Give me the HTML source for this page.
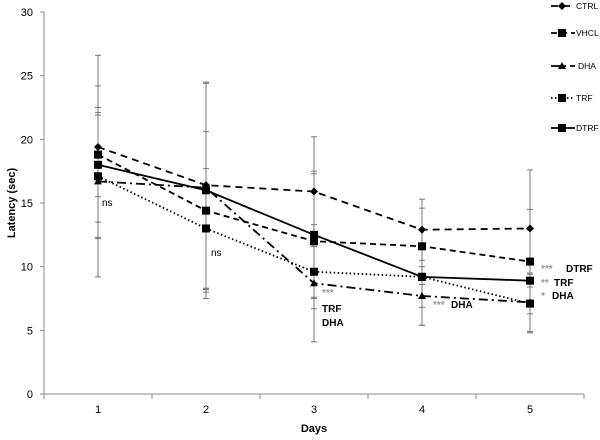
<!DOCTYPE html>
<html><head><meta charset="utf-8"><style>
body{margin:0;background:#fff;}
svg text{font-family:"Liberation Sans",sans-serif;}
</style></head><body>
<svg id="chart" width="600" height="435" viewBox="0 0 600 435" xmlns="http://www.w3.org/2000/svg">
<g id="axes"></g><g id="errs"></g><g id="lines"></g><g id="legend"></g>
<g font-size="10" font-weight="bold">
<text x="102" y="206" font-weight="normal">ns</text>
<text x="211" y="256" font-weight="normal">ns</text>
<text x="322" y="296" fill="#999">***</text>
<text x="322" y="312">TRF</text>
<text x="322" y="326">DHA</text>
<text x="433" y="308" fill="#999">***</text><text x="451" y="308">DHA</text>
<text x="541" y="272" fill="#999">***</text><text x="566" y="272">DTRF</text>
<text x="541" y="286" fill="#999">**</text><text x="554" y="286">TRF</text>
<text x="541" y="299" fill="#999">*</text><text x="552" y="299">DHA</text>
</g>
</svg>
<script>
const days=[1,2,3,4,5];
const yTicks=[0,5,10,15,20,25,30];
const seriesNames=["CTRL","VHCL","DHA","TRF","DTRF"];
const ctrl=[19.4,16.4,15.9,12.9,13.0];
const vhcl=[18.8,14.4,12.0,11.6,10.4];
const dha=[16.7,16.2,8.7,7.7,7.2];
const trf=[17.1,13.0,9.6,9.2,7.1];
const dtrf=[18.0,16.0,12.5,9.2,8.9];
const ctrlSd=[7.2,8.1,4.3,2.4,4.6];
const vhclSd=[3.3,6.2,5.3,3.0,4.1];
const dhaSd=[7.5,8.2,4.6,2.3,2.3];
const trfSd=[4.8,4.7,2.0,2.4,2.3];
const dtrfSd=[4.5,8.5,5.0,3.8,4.0];
const NS="http://www.w3.org/2000/svg";
const x=d=>98+(d-1)*108;
const y=v=>394-v*12.733;
function mk(tag,attrs,parent){const e=document.createElementNS(NS,tag);for(const k in attrs)e.setAttribute(k,attrs[k]);parent.appendChild(e);return e;}
const axes=document.getElementById('axes');
mk('line',{x1:44,y1:12,x2:44,y2:394,stroke:'#888'},axes);
mk('line',{x1:44,y1:394,x2:584,y2:394,stroke:'#888'},axes);
yTicks.forEach(t=>{
 mk('line',{x1:40,y1:y(t),x2:44,y2:y(t),stroke:'#888'},axes);
 const tx=mk('text',{x:33,y:y(t)+4,'text-anchor':'end','font-size':11},axes);tx.textContent=t;
 
 
});
for(let i=0;i<=5;i++)mk('line',{x1:44+i*108,y1:394,x2:44+i*108,y2:399,stroke:'#888'},axes);
days.forEach(d=>{const tx=mk('text',{x:x(d),y:413,'text-anchor':'middle','font-size':11,'font-family':'Liberation Serif'},axes);tx.textContent=d;
 
 });
const xt=mk('text',{x:314,y:432,'text-anchor':'middle','font-size':11,'font-weight':'bold'},axes);xt.textContent='Days';


const yt=mk('text',{x:0,y:0,transform:'translate(15,203) rotate(-90)','text-anchor':'middle','font-size':11,'font-weight':'bold'},axes);yt.textContent='Latency (sec)';


const all=[[ctrl,ctrlSd,'7,5','diamond'],[vhcl,vhclSd,'6,4','square'],[dha,dhaSd,'9,4,2,4','triangle'],[trf,trfSd,'1.5,2.5','square'],[dtrf,dtrfSd,'','square']];
const errs=document.getElementById('errs'),lines=document.getElementById('lines');
function marker(shape,cx,cy,g){
 if(shape==='diamond')return mk('path',{d:`M${cx} ${cy-4}L${cx+4} ${cy}L${cx} ${cy+4}L${cx-4} ${cy}Z`,fill:'#000'},g);
 if(shape==='triangle')return mk('path',{d:`M${cx} ${cy-4}L${cx+4} ${cy+3}L${cx-4} ${cy+3}Z`,fill:'#000'},g);
 return mk('rect',{x:cx-4,y:cy-4,width:8,height:8,fill:'#000'},g);
}
all.forEach((s,si)=>{
 const [vals,sd,dash,shape]=s;
 vals.forEach((v,i)=>{
  const cx=x(days[i]);
  const l=mk('line',{x1:cx,y1:y(v-sd[i]),x2:cx,y2:y(v+sd[i]),stroke:'#777','stroke-width':1},errs);
  
  
  mk('line',{x1:cx-3,y1:y(v-sd[i]),x2:cx+3,y2:y(v-sd[i]),stroke:'#777'},errs);
  mk('line',{x1:cx-3,y1:y(v+sd[i]),x2:cx+3,y2:y(v+sd[i]),stroke:'#777'},errs);
 });
 const p=mk('polyline',{points:vals.map((v,i)=>x(days[i])+','+y(v)).join(' '),fill:'none',stroke:'#000','stroke-width':1.8,'stroke-dasharray':dash},lines);
 
 
 vals.forEach((v,i)=>{const m=marker(shape,x(days[i]),y(v),lines);
  
  });
});
const lg=document.getElementById('legend');
const ly=[6,33,66,98,128];
all.forEach((s,i)=>{
 const g=mk('g',{},lg);
 
 
 mk('line',{x1:551,y1:ly[i],x2:575,y2:ly[i],stroke:'#000','stroke-width':1.8,'stroke-dasharray':s[2]},g);
 marker(s[3],562,ly[i],g);
 const t=mk('text',{x:i===2?578:576,y:ly[i]+3,'font-size':8.5},g);t.textContent=seriesNames[i];
});
</script>
</body></html>
